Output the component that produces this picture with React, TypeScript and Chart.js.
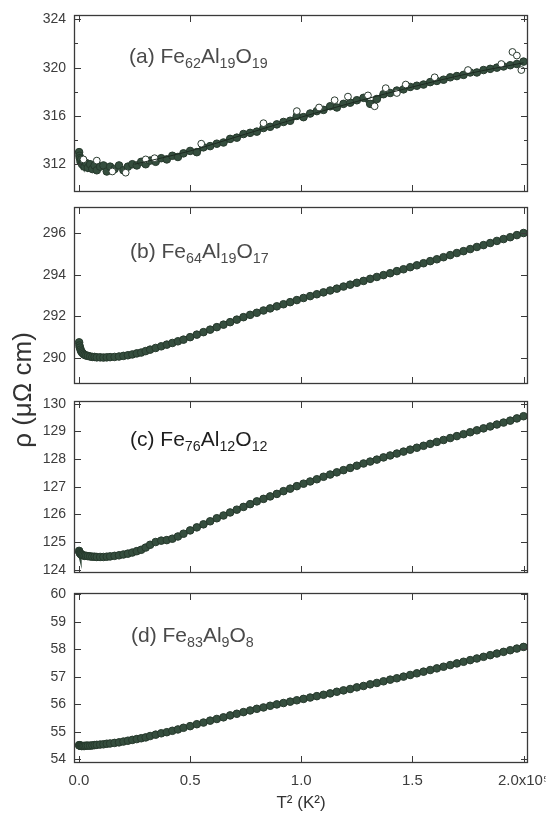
import React, { useEffect, useRef } from 'react';
import { Chart, registerables } from 'chart.js';

Chart.register(...registerables);

// ---------- data (T^2 in K^2, rho in µΩ cm) ----------
const T2 = [50, 200, 400, 700, 1000, 1400, 1900, 2500, 3200, 4000,
  5000, 6000, 7000, 8000, 9500, 11000, 12500, 14000, 16000, 18000,
  20000, 22000, 24000, 26000, 28000, 30000, 32000, 34500, 37000, 39500,
  42000, 44500, 47000, 50000, 53000, 56000, 59000, 62000, 65000, 68000,
  71000, 74000, 77000, 80000, 83000, 86000, 89000, 92000, 95000, 98000,
  101000, 104000, 107000, 110000, 113000, 116000, 119000, 122000, 125000, 128000,
  131000, 134000, 137000, 140000, 143000, 146000, 149000, 152000, 155000, 158000,
  161000, 164000, 167000, 170000, 173000, 176000, 179000, 182000, 185000, 188000,
  191000, 194000, 197000, 200000];

const rhoA = [313.0, 312.7, 312.5, 312.2, 312.4, 312.0, 312.2, 311.8, 312.1, 311.7,
  312.0, 311.6, 311.9, 311.5, 311.8, 311.9, 311.4, 311.8, 311.6, 311.9,
  311.5, 311.8, 312.0, 311.9, 312.2, 312.0, 312.3, 312.2, 312.5, 312.4,
  312.7, 312.6, 312.9, 313.1, 313.0, 313.4, 313.5, 313.7, 313.8, 314.1,
  314.2, 314.5, 314.6, 314.7, 315.0, 315.1, 315.3, 315.5, 315.6, 316.0,
  315.9, 316.2, 316.4, 316.5, 316.8, 316.7, 317.0, 317.1, 317.3, 317.5,
  317.0, 317.4, 317.8, 317.9, 318.1, 318.2, 318.4, 318.5, 318.6, 318.8,
  318.9, 319.0, 319.2, 319.3, 319.4, 319.6, 319.6, 319.8, 319.9, 320.0,
  320.1, 320.2, 320.3, 320.5];

const openAX = [2000, 8000, 15000, 21000, 30000, 34000, 55000, 83000, 98000, 108000,
  115000, 121000, 130000, 133000, 138000, 143000, 147000, 160000, 175000, 190000,
  195000, 197000, 199000];
const openAY = [312.4, 312.3, 311.4, 311.3, 312.4, 312.5, 313.7, 315.4, 316.4, 316.7,
  317.3, 317.6, 317.7, 316.8, 318.3, 317.9, 318.6, 319.2, 319.8, 320.3,
  321.3, 321.0, 319.8];

const fitAX = [25000, 50000, 75000, 100000, 125000, 150000, 175000, 200000];
const fitAY = [312.0, 313.1, 314.5, 315.9, 317.2, 318.4, 319.5, 320.4];

const rhoB = [290.75, 290.6, 290.5, 290.4, 290.32, 290.26, 290.2, 290.15, 290.12, 290.1,
  290.07, 290.05, 290.05, 290.03, 290.03, 290.02, 290.03, 290.04, 290.05, 290.07,
  290.1, 290.13, 290.17, 290.22, 290.26, 290.33, 290.4, 290.48, 290.56, 290.64,
  290.72, 290.8, 290.88, 291.0, 291.12, 291.24, 291.36, 291.48, 291.6, 291.72,
  291.84, 291.96, 292.07, 292.17, 292.28, 292.38, 292.48, 292.58, 292.68, 292.78,
  292.88, 292.97, 293.06, 293.15, 293.24, 293.33, 293.43, 293.52, 293.61, 293.7,
  293.8, 293.89, 293.98, 294.07, 294.17, 294.26, 294.36, 294.45, 294.55, 294.65,
  294.74, 294.84, 294.94, 295.04, 295.13, 295.23, 295.33, 295.42, 295.52, 295.62,
  295.71, 295.8, 295.9, 296.0];

const rhoC = [124.68, 124.64, 124.6, 124.57, 124.55, 124.53, 124.52, 124.5, 124.5, 124.49,
  124.48, 124.47, 124.47, 124.46, 124.46, 124.46, 124.47, 124.48, 124.5, 124.52,
  124.55, 124.58, 124.62, 124.67, 124.72, 124.8, 124.9, 125.0, 125.05, 125.07,
  125.12, 125.2, 125.3, 125.42, 125.53, 125.64, 125.75, 125.86, 125.96, 126.07,
  126.17, 126.27, 126.37, 126.47, 126.56, 126.65, 126.74, 126.84, 126.93, 127.02,
  127.11, 127.19, 127.27, 127.36, 127.44, 127.52, 127.6, 127.68, 127.76, 127.84,
  127.91, 127.98, 128.06, 128.13, 128.2, 128.27, 128.34, 128.41, 128.48, 128.55,
  128.62, 128.69, 128.76, 128.83, 128.9, 128.97, 129.04, 129.11, 129.18, 129.25,
  129.32, 129.39, 129.47, 129.55];

const rhoD = [54.52, 54.51, 54.5, 54.5, 54.49, 54.49, 54.49, 54.49, 54.5, 54.5,
  54.5, 54.51, 54.52, 54.53, 54.54, 54.55, 54.57, 54.58, 54.6, 54.62,
  54.65, 54.68, 54.71, 54.74, 54.77, 54.8, 54.85, 54.9, 54.95, 54.99,
  55.04, 55.09, 55.15, 55.21, 55.28, 55.34, 55.41, 55.47, 55.53, 55.6,
  55.66, 55.72, 55.78, 55.84, 55.89, 55.95, 56.0, 56.05, 56.1, 56.15,
  56.2, 56.25, 56.3, 56.35, 56.4, 56.46, 56.51, 56.56, 56.62, 56.67,
  56.73, 56.78, 56.84, 56.9, 56.95, 57.01, 57.07, 57.13, 57.19, 57.25,
  57.31, 57.37, 57.43, 57.49, 57.55, 57.61, 57.67, 57.73, 57.79, 57.85,
  57.91, 57.97, 58.03, 58.09];

// ---------- ticks & labels ----------
const xTicks = [0, 50000, 100000, 150000, 200000];
const xTickLabels = ['0.0', '0.5', '1.0', '1.5', '2.0x10\u2075'];
const ticksA = [312, 314, 316, 318, 320, 322, 324];
const labelsA = [312, 316, 320, 324];
const ticksB = [290, 292, 294, 296];
const ticksC = [124, 125, 126, 127, 128, 129, 130];
const ticksD = [54, 55, 56, 57, 58, 59, 60];

const labelTextA = ['(a) ', 'Fe', '62', 'Al', '19', 'O', '19'];
const labelTextB = ['(b) ', 'Fe', '64', 'Al', '19', 'O', '17'];
const labelTextC = ['(c) ', 'Fe', '76', 'Al', '12', 'O', '12'];
const labelTextD = ['(d) ', 'Fe', '83', 'Al', '9', 'O', '8'];

const xTitle = 'T\u00b2 (K\u00b2)';
const yTitle = '\u03c1 (\u03bc\u03a9 cm)';

// ---------- layout ----------
const W = 546;
const H = 817;
const PLOT_L = 74;
const PLOT_R = 528;
const PAD_T = 10;
const PAD_B = 7;
const X_MIN = -2250;
const X_MAX = 202000;
const FONT = '"Liberation Sans", Arial, Helvetica, sans-serif';
const PT_FILL = '#354e3e';
const PT_EDGE = '#26392c';
const BAND = '#33493b';

type Spec = {
  key: string; top: number; bottom: number; yMin: number; yMax: number;
  yTicks: number[]; yLabels: number[]; rho: number[]; isBottom: boolean;
  label: string[]; labelX: number; labelBase: number; labelColor: string;
};

const specs: Spec[] = [
  { key: 'a', top: 15, bottom: 192, yMin: 309.7, yMax: 324.36, yTicks: ticksA, yLabels: labelsA, rho: rhoA, isBottom: false, label: labelTextA, labelX: 129, labelBase: 63, labelColor: '#4a4a4a' },
  { key: 'b', top: 207, bottom: 384, yMin: 288.75, yMax: 297.25, yTicks: ticksB, yLabels: ticksB, rho: rhoB, isBottom: false, label: labelTextB, labelX: 130, labelBase: 258, labelColor: '#4a4a4a' },
  { key: 'c', top: 401, bottom: 573, yMin: 123.88, yMax: 130.1, yTicks: ticksC, yLabels: ticksC, rho: rhoC, isBottom: false, label: labelTextC, labelX: 130, labelBase: 446, labelColor: '#1e1e1e' },
  { key: 'd', top: 593, bottom: 763, yMin: 53.87, yMax: 60.05, yTicks: ticksD, yLabels: ticksD, rho: rhoD, isBottom: true, label: labelTextD, labelX: 131, labelBase: 642, labelColor: '#4a4a4a' },
];

function Panel({ spec }: { spec: Spec }) {
  const ref = useRef<HTMLCanvasElement>(null);
  const canvasTop = spec.top - PAD_T;
  const canvasH = spec.isBottom ? H - canvasTop : spec.bottom - spec.top + PAD_T + PAD_B;

  useEffect(() => {
    const canvas = ref.current;
    if (!canvas) return;

    const pts = T2.map((x, i) => ({ x, y: spec.rho[i] }));
    const datasets: any[] = [
      {
        data: pts,
        pointRadius: 0,
        showLine: true,
        borderColor: BAND,
        borderWidth: 4,
        order: 3,
      },
      {
        data: pts,
        pointRadius: 3.8,
        pointBorderWidth: 1,
        pointBackgroundColor: PT_FILL,
        pointBorderColor: PT_EDGE,
        showLine: false,
        order: 2,
      },
    ];
    if (spec.key === 'a') {
      datasets.push({
        data: openAX.map((x, i) => ({ x, y: openAY[i] })),
        pointRadius: 3.4,
        pointBorderWidth: 1,
        pointBackgroundColor: '#ffffff',
        pointBorderColor: '#2a3a2f',
        showLine: false,
        order: 1,
      });
      datasets.push({
        data: fitAX.map((x, i) => ({ x, y: fitAY[i] })),
        pointRadius: 0,
        showLine: true,
        borderColor: '#1d2a21',
        borderWidth: 1,
        tension: 0.3,
        order: 0,
      });
    }

    const frame = {
      id: 'frame',
      afterDatasetsDraw(chart: any) {
        const { ctx, chartArea } = chart;
        const { left, right, top, bottom } = chartArea;
        const xs = chart.scales.x;
        const ys = chart.scales.y;
        ctx.save();
        ctx.strokeStyle = '#3a3a3a';
        ctx.lineWidth = 1.3;
        ctx.strokeRect(Math.round(left) + 0.5, Math.round(top) + 0.5, Math.round(right - left) - 1, Math.round(bottom - top) - 1);
        ctx.lineWidth = 1;
        ctx.beginPath();
        for (const v of spec.yTicks) {
          const py = Math.round(ys.getPixelForValue(v)) + 0.5;
          const len = spec.yLabels.includes(v) ? 7 : 4;
          ctx.moveTo(left, py); ctx.lineTo(left + len, py);
          ctx.moveTo(right, py); ctx.lineTo(right - len, py);
        }
        for (const v of xTicks) {
          const px = Math.round(xs.getPixelForValue(v)) + 0.5;
          ctx.moveTo(px, bottom); ctx.lineTo(px, bottom - 7);
          ctx.moveTo(px, top); ctx.lineTo(px, top + 7);
        }
        ctx.stroke();
        ctx.restore();
      },
    };

    const chart = new Chart(canvas, {
      type: 'scatter',
      data: { datasets },
      options: {
        animation: false,
        responsive: false,
        devicePixelRatio: 1,
        layout: { padding: { top: PAD_T, right: W - PLOT_R, left: 0, bottom: spec.isBottom ? 0 : PAD_B } },
        plugins: { legend: { display: false }, tooltip: { enabled: false } },
        scales: {
          x: {
            type: 'linear',
            min: X_MIN,
            max: X_MAX,
            display: spec.isBottom,
            grid: { display: false, drawTicks: false },
            border: { display: false },
            afterBuildTicks: (s: any) => { s.ticks = xTicks.map((v) => ({ value: v })); },
            afterFit: (s: any) => { s.height = spec.isBottom ? H - spec.bottom : 0; s.paddingLeft = 0; s.paddingRight = 0; },
            ticks: {
              autoSkip: false,
              maxRotation: 0,
              padding: 9,
              color: '#3c3c3c',
              font: { family: FONT, size: 15 },
              callback: (v: any) => { const i = xTicks.indexOf(Number(v)); return i >= 0 ? xTickLabels[i] : ''; },
            },
            title: {
              display: true,
              text: xTitle,
              color: '#333333',
              font: { family: FONT, size: 17 },
              padding: { top: 0, bottom: 3 },
            },
          },
          y: {
            type: 'linear',
            min: spec.yMin,
            max: spec.yMax,
            grid: { display: false, drawTicks: false },
            border: { display: false },
            afterBuildTicks: (s: any) => { s.ticks = spec.yTicks.map((v) => ({ value: v })); },
            afterFit: (s: any) => { s.width = PLOT_L; s.paddingTop = 0; s.paddingBottom = 0; },
            ticks: {
              autoSkip: false,
              padding: 8,
              color: '#3c3c3c',
              font: { family: FONT, size: 14 },
              callback: (v: any) => (spec.yLabels.includes(Number(v)) ? String(v) : ''),
            },
          },
        },
      },
      plugins: [frame],
    } as any);

    return () => chart.destroy();
  }, [spec]);

  return (
    <canvas
      ref={ref}
      width={W}
      height={canvasH}
      style={{ position: 'absolute', left: 0, top: canvasTop, width: W, height: canvasH, display: 'block' }}
    />
  );
}

function Formula({ parts, left, baseline, color }: { parts: string[]; left: number; baseline: number; color: string }) {
  const size = 21;
  const [prefix, ...rest] = parts;
  const pairs: [string, string][] = [];
  for (let i = 0; i < rest.length; i += 2) pairs.push([rest[i], rest[i + 1]]);
  return (
    <div style={{ position: 'absolute', left, top: baseline - 18, fontFamily: FONT, fontSize: size, lineHeight: 1, color, whiteSpace: 'nowrap' }}>
      {prefix}
      {pairs.map(([el, n], i) => (
        <React.Fragment key={i}>
          {el}
          <span style={{ fontSize: '0.68em', position: 'relative', top: '0.32em' }}>{n}</span>
        </React.Fragment>
      ))}
    </div>
  );
}

export default function App() {
  return (
    <div style={{ position: 'absolute', left: 0, top: 0, width: W, height: H, background: '#ffffff', overflow: 'hidden' }}>
      {specs.map((s) => <Panel key={s.key} spec={s} />)}
      {specs.map((s) => (
        <Formula key={'l' + s.key} parts={s.label} left={s.labelX} baseline={s.labelBase} color={s.labelColor} />
      ))}
      <div
        style={{
          position: 'absolute', left: 22 - 100, top: 390 - 15, width: 200, height: 30,
          lineHeight: '30px', textAlign: 'center', fontFamily: FONT, fontSize: 26, color: '#333333',
          transform: 'rotate(-90deg)', transformOrigin: '50% 50%', whiteSpace: 'nowrap',
        }}
      >
        {yTitle}
      </div>
    </div>
  );
}
